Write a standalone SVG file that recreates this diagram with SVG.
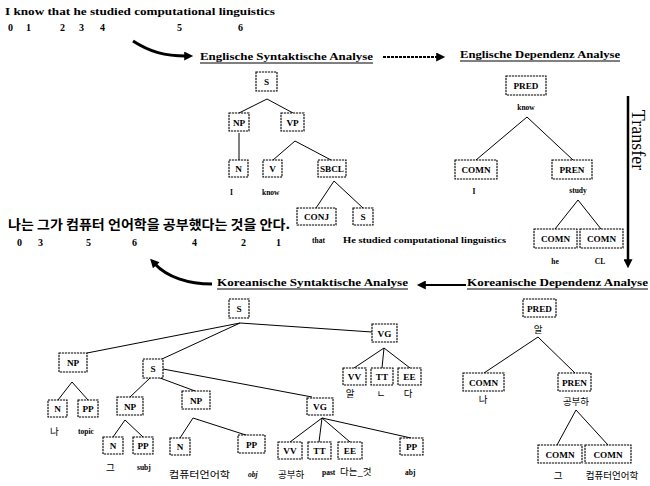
<svg xmlns="http://www.w3.org/2000/svg" width="650" height="486" viewBox="0 0 650 486">
<style>
.bg{fill:#fff}
.b rect{fill:#fff;stroke:#000;stroke-width:1.1;stroke-dasharray:2.2 0.8}
.b text{font-family:"Liberation Serif",serif;font-weight:bold;font-size:9.2px;text-anchor:middle;fill:#000}
.t{font-family:"Liberation Serif",serif;font-weight:bold;font-size:10.5px;fill:#000}
.n{font-family:"Liberation Serif",serif;font-weight:bold;font-size:10px;fill:#000}
.h{font-family:"Liberation Serif",serif;font-weight:bold;font-size:10px;fill:#000}
.l{font-family:"Liberation Serif",serif;font-weight:bold;font-size:7.5px;fill:#000}
.k{font-family:"Noto Sans CJK KR",sans-serif;font-size:9.5px;fill:#000}
.ks{font-family:"Noto Sans CJK KR",sans-serif;font-weight:bold;font-size:13px;fill:#000}
.c line,.c polyline{stroke:#000;fill:none;stroke-width:1}
.u{stroke:#000;stroke-width:1}
.ar{stroke:#000;fill:none}
</style>
<defs>
<marker id="ah" viewBox="0 0 10 10" refX="2" refY="5" markerWidth="11" markerHeight="9" orient="auto" markerUnits="userSpaceOnUse"><path d="M0,0 L10,5 L0,10 z" fill="#000"/></marker>
</defs>
<rect class="bg" width="650" height="486"/>

<!-- top sentence -->
<text class="t" x="5" y="15" textLength="270" lengthAdjust="spacingAndGlyphs">I know that he studied computational linguistics</text>
<g class="n">
<text x="8" y="31">0</text><text x="26" y="31">1</text><text x="60" y="31">2</text><text x="79" y="31">3</text><text x="100" y="31">4</text><text x="177" y="31">5</text><text x="238" y="31">6</text>
</g>

<!-- Korean sentence -->
<text class="ks" x="8" y="229" textLength="282" lengthAdjust="spacingAndGlyphs">나는 그가 컴퓨터 언어학을 공부했다는 것을 안다.</text>
<g class="n">
<text x="17" y="246">0</text><text x="38" y="246">3</text><text x="86" y="246">5</text><text x="132" y="246">6</text><text x="192" y="246">4</text><text x="241" y="246">2</text><text x="276" y="246">1</text>
</g>

<!-- section titles -->
<g id="titles">
<text class="h" x="200" y="60" textLength="173" lengthAdjust="spacingAndGlyphs">Englische Syntaktische Analyse</text>
<line class="u" x1="200" y1="63" x2="373" y2="63"/>
<text class="h" x="460" y="58" textLength="160" lengthAdjust="spacingAndGlyphs">Englische Dependenz Analyse</text>
<line class="u" x1="460" y1="61" x2="620" y2="61"/>
<text class="h" x="217" y="286" textLength="191" lengthAdjust="spacingAndGlyphs">Koreanische Syntaktische Analyse</text>
<line class="u" x1="217" y1="289" x2="408" y2="289"/>
<text class="h" x="467" y="286" textLength="181" lengthAdjust="spacingAndGlyphs">Koreanische Dependenz Analyse</text>
<line class="u" x1="467" y1="289" x2="648" y2="289"/>
<text x="632" y="140" transform="rotate(90 632 140)" font-family="Liberation Serif, serif" font-size="18" text-anchor="middle">Transfer</text>
</g>

<!-- big arrows -->
<g id="flow-arrows">
<path class="ar" d="M133,41 C150,52 165,56 186,56" stroke-width="3" marker-end="url(#ah)"/>
<line class="ar" x1="383" y1="57" x2="438" y2="57" stroke-width="2" stroke-dasharray="3 1" marker-end="url(#ah)"/>
<line class="ar" x1="628" y1="96" x2="628" y2="261" stroke-width="2.5" marker-end="url(#ah)"/>
<line class="ar" x1="466" y1="285" x2="424" y2="285" stroke-width="2" marker-end="url(#ah)"/>
<path class="ar" d="M212,284 C188,284 167,277 155,264" stroke-width="3" marker-end="url(#ah)"/>
</g>

<!-- connectors -->
<g id="connectors" class="c">
<polyline points="239,113 267,99 293,113"/>
<line x1="239" y1="133" x2="239" y2="160"/>
<polyline points="273,160 295,141 331,160"/>
<polyline points="316,208 334,181 363,208"/>
<polyline points="476,160 527,117 573,160"/>
<polyline points="555,229 578,200 601,229"/>
<line x1="240" y1="323" x2="87" y2="353"/>
<line x1="240" y1="323" x2="162" y2="359"/>
<line x1="240" y1="323" x2="372" y2="332"/>
<polyline points="354,368 384,348 382,368"/>
<line x1="384" y1="348" x2="410" y2="368"/>
<polyline points="58,400 72,382 88,400"/>
<line x1="150" y1="378" x2="130" y2="397"/>
<line x1="160" y1="378" x2="195" y2="391"/>
<line x1="163" y1="369" x2="312" y2="397"/>
<polyline points="113,437 125,420 143,437"/>
<polyline points="180,438 193,418 252,437"/>
<polyline points="290,442 322,418 319,442"/>
<line x1="322" y1="418" x2="350" y2="442"/>
<line x1="322" y1="418" x2="411" y2="438"/>
<polyline points="484,373 538,337 575,373"/>
<polyline points="557,445 576,410 608,445"/>
</g>

<!-- English syntactic tree -->
<g id="en-S" class="b"><rect x="256" y="72" width="21" height="19"/><text x="266.5" y="85">S</text></g>
<g id="en-NP" class="b"><rect x="229" y="113" width="20" height="18"/><text x="239" y="125.5">NP</text></g>
<g id="en-VP" class="b"><rect x="281" y="113" width="23" height="18"/><text x="292.5" y="125.5">VP</text></g>
<g id="en-N" class="b"><rect x="229" y="160" width="19" height="17"/><text x="238.5" y="172">N</text></g>
<g id="en-V" class="b"><rect x="263" y="160" width="19" height="17"/><text x="272.5" y="172">V</text></g>
<g id="en-SBCL" class="b"><rect x="318" y="160" width="28" height="17"/><text x="332" y="172">SBCL</text></g>
<g id="en-CONJ" class="b"><rect x="297" y="208" width="39" height="17"/><text x="316.5" y="220">CONJ</text></g>
<g id="en-S2" class="b"><rect x="353" y="208" width="20" height="17"/><text x="363" y="220">S</text></g>
<g id="en-labels" class="l">
<text x="230" y="195">I</text>
<text x="262" y="195">know</text>
<text x="312" y="243">that</text>
<text x="343" y="243" textLength="163" lengthAdjust="spacingAndGlyphs">He studied computational linguistics</text>
</g>

<!-- English dependency tree -->
<g id="ed-PRED" class="b"><rect x="506" y="76" width="40" height="19"/><text x="526" y="89">PRED</text></g>
<g id="ed-COMN" class="b"><rect x="455" y="160" width="42" height="19"/><text x="476" y="173">COMN</text></g>
<g id="ed-PREN" class="b"><rect x="552" y="160" width="40" height="19"/><text x="572" y="173">PREN</text></g>
<g id="ed-COMN-he" class="b"><rect x="534" y="229" width="43" height="19"/><text x="555.5" y="242">COMN</text></g>
<g id="ed-COMN-CL" class="b"><rect x="580" y="229" width="43" height="19"/><text x="601.5" y="242">COMN</text></g>
<g id="ed-labels" class="l" text-anchor="middle">
<text x="526" y="110">know</text>
<text x="474" y="194">I</text>
<text x="578" y="193">study</text>
<text x="555" y="264">he</text>
<text x="600" y="264">CL</text>
</g>

<!-- Korean syntactic tree -->
<g id="ko-S" class="b"><rect x="229" y="299" width="20" height="19"/><text x="239" y="312">S</text></g>
<g id="ko-NP1" class="b"><rect x="59" y="353" width="28" height="19"/><text x="73" y="366">NP</text></g>
<g id="ko-S2" class="b"><rect x="143" y="359" width="20" height="19"/><text x="153" y="372">S</text></g>
<g id="ko-VG1" class="b"><rect x="372" y="324" width="25" height="18"/><text x="384.5" y="336.5">VG</text></g>
<g id="ko-VV1" class="b"><rect x="343" y="368" width="23" height="17"/><text x="354.5" y="380">VV</text></g>
<g id="ko-TT1" class="b"><rect x="371" y="368" width="22" height="17"/><text x="382" y="380">TT</text></g>
<g id="ko-EE1" class="b"><rect x="398" y="368" width="23" height="17"/><text x="409.5" y="380">EE</text></g>
<g id="ko-N1" class="b"><rect x="48" y="400" width="19" height="17"/><text x="57.5" y="412">N</text></g>
<g id="ko-PP1" class="b"><rect x="78" y="400" width="20" height="17"/><text x="88" y="412">PP</text></g>
<g id="ko-NP2" class="b"><rect x="117" y="397" width="26" height="18"/><text x="130" y="409.5">NP</text></g>
<g id="ko-NP3" class="b"><rect x="182" y="391" width="28" height="18"/><text x="196" y="403.5">NP</text></g>
<g id="ko-VG2" class="b"><rect x="307" y="398" width="26" height="17"/><text x="320" y="410">VG</text></g>
<g id="ko-N2" class="b"><rect x="103" y="437" width="20" height="17"/><text x="113" y="449">N</text></g>
<g id="ko-PP2" class="b"><rect x="133" y="437" width="20" height="17"/><text x="143" y="449">PP</text></g>
<g id="ko-N3" class="b"><rect x="170" y="438" width="20" height="17"/><text x="180" y="450">N</text></g>
<g id="ko-PP3" class="b"><rect x="238" y="435" width="27" height="18"/><text x="251.5" y="447.5">PP</text></g>
<g id="ko-VV2" class="b"><rect x="278" y="442" width="24" height="17"/><text x="290" y="454">VV</text></g>
<g id="ko-TT2" class="b"><rect x="308" y="442" width="23" height="17"/><text x="319.5" y="454">TT</text></g>
<g id="ko-EE2" class="b"><rect x="338" y="442" width="24" height="17"/><text x="350" y="454">EE</text></g>
<g id="ko-PP4" class="b"><rect x="400" y="438" width="23" height="17"/><text x="411.5" y="450">PP</text></g>
<g id="ko-labels">
<text class="k" x="350" y="397" text-anchor="middle">알</text>
<text class="k" x="381" y="397" text-anchor="middle">ㄴ</text>
<text class="k" x="408" y="397" text-anchor="middle">다</text>
<text class="k" x="50" y="435">나</text>
<text class="l" x="78" y="434">topic</text>
<text class="k" x="106" y="471">그</text>
<text class="l" x="137" y="470">subj</text>
<text class="k" x="169" y="478" textLength="61" lengthAdjust="spacingAndGlyphs">컴퓨터언어학</text>
<text class="l" x="248" y="477" font-style="italic">obj</text>
<text class="k" x="278" y="478">공부하</text>
<text class="l" x="322" y="475">past</text>
<text class="k" x="340" y="475">다는_것</text>
<text class="l" x="405" y="475">abj</text>
</g>

<!-- Korean dependency tree -->
<g id="kd-PRED" class="b"><rect x="523" y="299" width="33" height="18"/><text x="539.5" y="311.5">PRED</text></g>
<g id="kd-COMN" class="b"><rect x="463" y="373" width="41" height="18"/><text x="483.5" y="385.5">COMN</text></g>
<g id="kd-PREN" class="b"><rect x="558" y="373" width="33" height="18"/><text x="574.5" y="385.5">PREN</text></g>
<g id="kd-COMN-geu" class="b"><rect x="538" y="445" width="44" height="18"/><text x="560" y="457.5">COMN</text></g>
<g id="kd-COMN-cl" class="b"><rect x="585" y="445" width="46" height="18"/><text x="608" y="457.5">COMN</text></g>
<g id="kd-labels" class="k" text-anchor="middle">
<text x="538" y="333">알</text>
<text x="483" y="403">나</text>
<text x="576" y="405">공부하</text>
<text x="558" y="479">그</text>
<text x="612" y="479">컴퓨터언어학</text>
</g>
</svg>
